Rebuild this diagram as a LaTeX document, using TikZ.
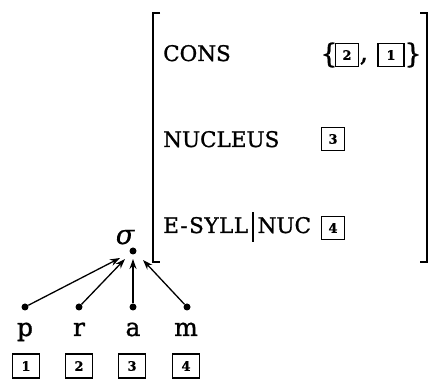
\documentclass[tikz,border=0pt]{standalone}
\usepackage{fontspec}
\setmainfont{DejaVu Serif}
\newfontfamily\heavyserif{DejaVu Serif}[FakeBold=1.1]
\newfontfamily\tagfont{DejaVu Serif Bold}[FakeBold=0.8]
\newfontfamily\sigfont{DejaVu Serif Italic}[FakeBold=0.6]
\usetikzlibrary{arrows.meta}
\begin{document}
\begin{tikzpicture}[x=1pt,y=1pt,
  feat/.style={anchor=base west, inner sep=0pt, font=\heavyserif\fontsize{21.5}{21.5}\selectfont},
  tag/.style={draw, line width=1.6pt, minimum width=23pt, minimum height=23pt, inner sep=0pt, font=\tagfont\fontsize{13}{13}\selectfont},
  btag/.style={tag, minimum width=27pt, minimum height=24pt},
  seg/.style={anchor=base, inner sep=0pt, font=\heavyserif\fontsize{25}{25}\selectfont},
  dotc/.style={circle, fill, inner sep=0pt, minimum size=7pt},
  arr/.style={-{Stealth[length=10pt,width=7pt]}, line width=1.3pt},
  brk/.style={line width=2.4pt},
  brace/.style={inner sep=0pt, font=\heavyserif\fontsize{27}{27}\selectfont}
]
\useasboundingbox (0,0) rectangle (431,379);
% brackets
\draw[brk] (160,366) -- (153,366) -- (153,117) -- (160,117);
\draw[brk] (420,366) -- (427,366) -- (427,117) -- (420,117);
% features
\node[feat] (cons) at (163,318) {CONS};
\node[feat] (nuc) at (163,232) {NUCLEUS};
\node[feat] (esyll) at (163,146) {E\kern1.5pt-\kern1.5pt S\kern0.5pt Y\kern0.5pt L\kern0.5pt L\kern4pt\rule[-9pt]{1.5pt}{30pt}\kern4pt NUC};
% values
\node[brace] (lb) at (329,324) {\{};
\node[tag] (t2) at (347,324) {2};
\node[brace, anchor=base] (cm) at (364,318) {,};
\node[tag, minimum width=26pt] (t1) at (391,324) {1};
\node[brace] (rb) at (413,324) {\}};
\node[tag] (t3) at (333,240) {3};
\node[tag] (t4) at (333,151) {4};
% sigma
\node[inner sep=0pt, anchor=base, font=\sigfont\fontsize{27}{27}\selectfont] (sig) at (125,135) {σ};
\node[dotc] (sd) at (133,128) {};
\coordinate (ep) at (120,121);
\coordinate (er) at (125,120);
\coordinate (ea) at (133,120);
\coordinate (em) at (143,119);
% segments
\node[dotc] (dp) at (25,72) {};
\node[dotc] (dr) at (79,72) {};
\node[dotc] (da) at (133,72) {};
\node[dotc] (dm) at (187,72) {};
\node[seg] (lp) at (25,43) {p};
\node[seg] (lr) at (79,43) {r};
\node[seg] (la) at (133,43) {a};
\node[seg] (lm) at (186,43) {m};
\node[btag] (b1) at (26,13) {1};
\node[btag] (b2) at (79,13) {2};
\node[btag] (b3) at (132,13) {3};
\node[btag] (b4) at (186,13) {4};
\draw[arr] (dp) -- (ep);
\draw[arr] (dr) -- (er);
\draw[arr] (da) -- (ea);
\draw[arr] (dm) -- (em);
\end{tikzpicture}
\end{document}
